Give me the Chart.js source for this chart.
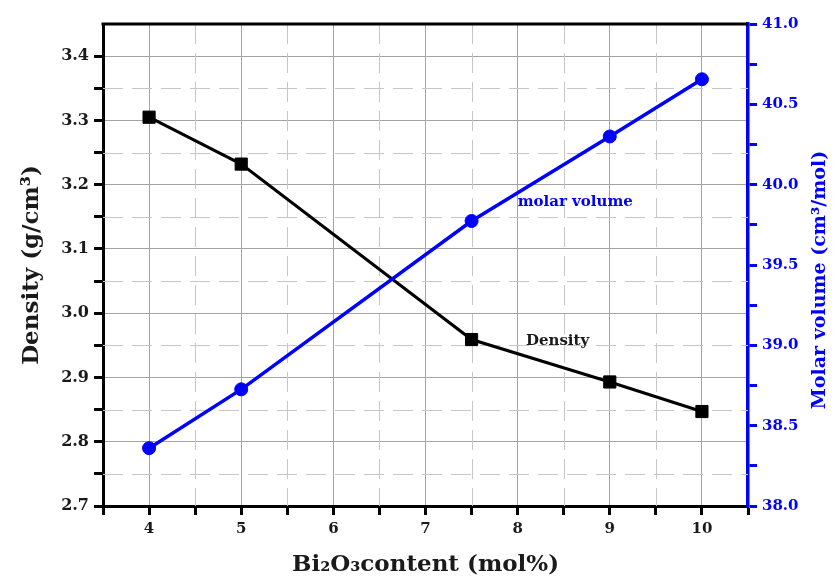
<!DOCTYPE html>
<html>
<head>
<meta charset="utf-8">
<title>Density and molar volume vs Bi2O3 content</title>
<script src="https://cdn.jsdelivr.net/npm/chart.js@4.4.1/dist/chart.umd.min.js"></script>
<style>
    html, body { margin: 0; padding: 0; background: #fff; }
    #wrap { width: 833px; height: 583px; }
</style>
</head>
<body>
<div id="wrap"><canvas id="density-chart"></canvas></div>
<script>
const bi2o3Content = [4, 5, 7.5, 9, 10];
const densityValues = [3.305, 3.232, 2.959, 2.893, 2.847];
const molarVolumeValues = [38.36, 38.726, 39.774, 40.30, 40.656];

const xTickLabels = ['4', '5', '6', '7', '8', '9', '10'];
const densityTickLabels = ['2.7', '2.8', '2.9', '3.0', '3.1', '3.2', '3.3', '3.4'];
const molarTickLabels = ['38.0', '38.5', '39.0', '39.5', '40.0', '40.5', '41.0'];

const FONT = '"DejaVu Serif", "Liberation Serif", serif';
const BLUE = '#0000ff';
const INK = '#1a1a1a';

function isStep(value, step) {
    const n = value / step;
    return Math.abs(n - Math.round(n)) < 1e-6;
}

function pickLabel(labels, value) {
    const found = labels.find(l => Math.abs(Number(l) - value) < 1e-6);
    return found === undefined ? '' : found;
}

// dashed minor grid, top frame line, right title and the two series labels
const extrasPlugin = {
    id: 'extras',
    beforeDatasetsDraw(chart) {
        const { ctx, chartArea, scales } = chart;
        ctx.save();
        ctx.strokeStyle = '#c6c6c6';
        ctx.lineWidth = 1;
        ctx.setLineDash([20, 9]);
        scales.x.ticks.forEach(t => {
            if (isStep(t.value, 1) || t.value <= scales.x.min || t.value >= scales.x.max) return;
            const px = Math.round(scales.x.getPixelForValue(t.value)) + 0.5;
            ctx.beginPath();
            ctx.moveTo(px, chartArea.top);
            ctx.lineTo(px, chartArea.bottom);
            ctx.stroke();
        });
        scales.y.ticks.forEach(t => {
            if (isStep(t.value, 0.1) || t.value >= scales.y.max - 1e-6) return;
            const py = Math.round(scales.y.getPixelForValue(t.value)) + 0.5;
            ctx.beginPath();
            ctx.moveTo(chartArea.left, py);
            ctx.lineTo(chartArea.right, py);
            ctx.stroke();
        });
        ctx.restore();
    },
    afterDatasetsDraw(chart) {
        const { ctx, scales } = chart;
        ctx.save();
        ctx.font = 'bold 15px ' + FONT;
        ctx.textBaseline = 'middle';
        ctx.textAlign = 'left';
        ctx.fillStyle = BLUE;
        ctx.fillText('molar volume', scales.x.getPixelForValue(8.0), scales.y2.getPixelForValue(39.89));
        ctx.fillStyle = INK;
        ctx.fillText('Density', scales.x.getPixelForValue(8.09), scales.y.getPixelForValue(2.957));
        ctx.restore();
    },
    afterDraw(chart) {
        const { ctx, chartArea } = chart;
        ctx.save();
        ctx.strokeStyle = '#000';
        ctx.lineWidth = 3;
        ctx.beginPath();
        ctx.moveTo(chartArea.left - 1.5, chartArea.top);
        ctx.lineTo(chartArea.right, chartArea.top);
        ctx.stroke();

        ctx.translate(820, 280);
        ctx.rotate(-Math.PI / 2);
        ctx.font = 'bold 19px ' + FONT;
        ctx.fillStyle = BLUE;
        ctx.textAlign = 'center';
        ctx.textBaseline = 'middle';
        ctx.fillText('Molar volume (cm\u00b3/mol)', 0, 0);
        ctx.restore();
    }
};

const ctx = document.getElementById('density-chart').getContext('2d');
window.densityChart = new Chart(ctx, {
    type: 'line',
    data: {
        datasets: [{
            label: 'molar volume',
            data: bi2o3Content.map((x, i) => ({ x: x, y: molarVolumeValues[i] })),
            yAxisID: 'y2',
            borderColor: BLUE,
            backgroundColor: BLUE,
            borderWidth: 3.5,
            pointStyle: 'circle',
            pointRadius: 6.5,
            pointBorderWidth: 1,
        }, {
            label: 'Density',
            data: bi2o3Content.map((x, i) => ({ x: x, y: densityValues[i] })),
            yAxisID: 'y',
            borderColor: '#000',
            backgroundColor: '#000',
            borderWidth: 3,
            pointStyle: 'rect',
            pointRadius: 8.6,
            pointBorderWidth: 1,
        }],
    },
    options: {
        responsive: true,
        maintainAspectRatio: false,
        animation: false,
        layout: { padding: { top: 24, left: 0, right: 0, bottom: 0 } },
        plugins: {
            legend: { display: false },
            tooltip: { enabled: false },
        },
        scales: {
            x: {
                type: 'linear',
                position: 'bottom',
                min: 3.5,
                max: 10.5,
                afterFit: scale => { scale.height = 77; },
                ticks: {
                    stepSize: 0.5,
                    maxTicksLimit: 100,
                    autoSkip: false,
                    maxRotation: 0,
                    padding: 5,
                    color: INK,
                    font: { family: FONT, size: 15, weight: 'bold' },
                    callback: value => pickLabel(xTickLabels, value),
                },
                grid: {
                    color: c => isStep(c.tick.value, 1) ? '#a4a4a4' : 'rgba(0,0,0,0)',
                    lineWidth: 1,
                    tickColor: '#000',
                    tickWidth: 3,
                    tickLength: 9,
                },
                border: { color: '#000', width: 3 },
                title: {
                    display: true,
                    text: 'Bi\u2082O\u2083content (mol%)',
                    color: INK,
                    font: { family: FONT, size: 23, weight: 'bold' },
                    padding: { top: 0, bottom: 4 },
                },
            },
            y: {
                type: 'linear',
                position: 'left',
                min: 2.7,
                max: 3.45,
                afterFit: scale => { scale.width = 103; },
                ticks: {
                    stepSize: 0.05,
                    maxTicksLimit: 100,
                    autoSkip: false,
                    padding: 5,
                    color: INK,
                    font: { family: FONT, size: 16, weight: 'bold' },
                    callback: value => pickLabel(densityTickLabels, value),
                },
                grid: {
                    color: c => isStep(c.tick.value, 0.1) ? '#a4a4a4' : 'rgba(0,0,0,0)',
                    lineWidth: 1,
                    tickColor: c => c.tick.value > 3.44 ? 'rgba(0,0,0,0)' : '#000',
                    tickWidth: 3,
                    tickLength: 9,
                },
                border: { color: '#000', width: 3 },
                title: {
                    display: true,
                    text: 'Density (g/cm\u00b3)',
                    color: INK,
                    font: { family: FONT, size: 23, weight: 'bold' },
                    padding: { top: 18, bottom: 0 },
                },
            },
            y2: {
                type: 'linear',
                position: 'right',
                min: 38,
                max: 41,
                afterFit: scale => { scale.width = 85; },
                ticks: {
                    stepSize: 0.25,
                    maxTicksLimit: 100,
                    autoSkip: false,
                    padding: 5,
                    color: BLUE,
                    font: { family: FONT, size: 15, weight: 'bold' },
                    callback: value => pickLabel(molarTickLabels, value),
                },
                grid: {
                    drawOnChartArea: false,
                    tickColor: BLUE,
                    tickWidth: 3,
                    tickLength: 9,
                },
                border: { color: BLUE, width: 3.5 },
            },
        },
    },
    plugins: [extrasPlugin],
});
</script>
</body>
</html>
